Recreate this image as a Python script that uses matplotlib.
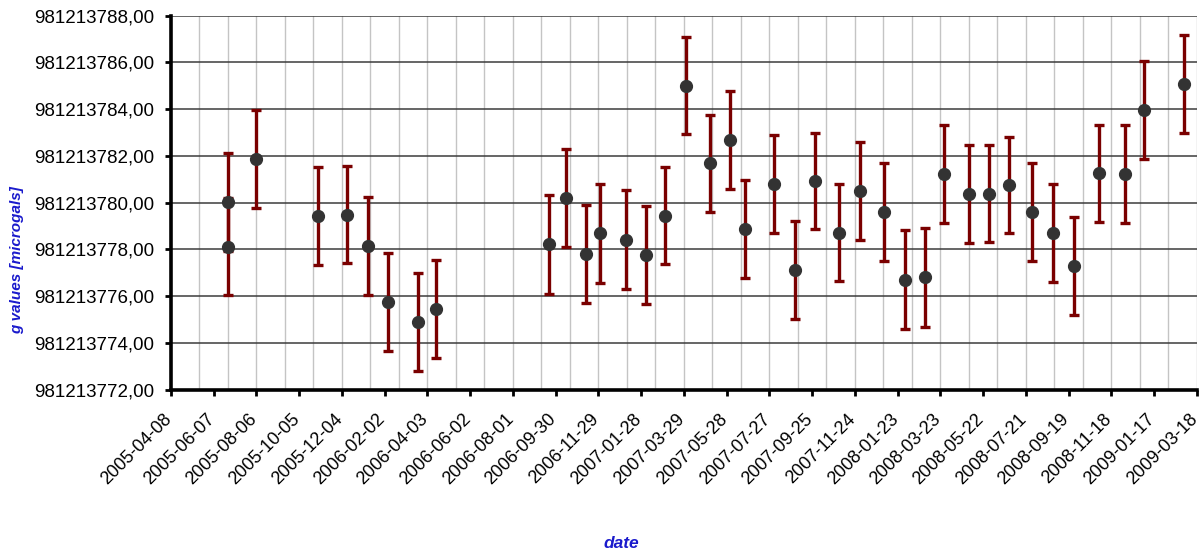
import numpy as np
import pandas as pd
import matplotlib
matplotlib.use('Agg')
import matplotlib.pyplot as plt
import matplotlib.dates as mdates
import matplotlib.transforms as mtransforms
from matplotlib.ticker import FixedLocator, FuncFormatter

plt.rcParams['font.family'] = ['Liberation Sans', 'DejaVu Sans']

# measurement dates and g values (microgals)
dates = ['2005-06-27', '2005-06-27', '2005-08-05', '2005-10-31', '2005-12-11',
         '2006-01-09', '2006-02-06', '2006-03-20', '2006-04-15', '2006-09-21',
         '2006-10-14', '2006-11-12', '2006-12-01', '2007-01-07', '2007-02-04',
         '2007-03-03', '2007-04-01', '2007-05-05', '2007-06-02', '2007-06-22',
         '2007-08-03', '2007-09-01', '2007-09-29', '2007-11-02', '2007-12-01',
         '2008-01-04', '2008-02-02', '2008-03-01', '2008-03-28', '2008-05-02',
         '2008-05-30', '2008-06-27', '2008-07-30', '2008-08-28', '2008-09-27',
         '2008-10-31', '2008-12-07', '2009-01-02', '2009-02-28']
g_values = [981213778.11, 981213780.03, 981213781.85, 981213779.43, 981213779.49,
            981213778.15, 981213775.75, 981213774.88, 981213775.45, 981213778.21,
            981213780.21, 981213777.79, 981213778.68, 981213778.42, 981213777.75,
            981213779.45, 981213785.00, 981213781.68, 981213782.69, 981213778.88,
            981213780.79, 981213777.11, 981213780.92, 981213778.71, 981213780.51,
            981213779.61, 981213776.71, 981213776.80, 981213781.23, 981213780.38,
            981213780.39, 981213780.74, 981213779.60, 981213778.69, 981213777.28,
            981213781.26, 981213781.22, 981213783.98, 981213785.09]
g_errors = [2.07, 2.10, 2.10, 2.10, 2.08,
            2.10, 2.10, 2.10, 2.10, 2.10,
            2.10, 2.10, 2.10, 2.10, 2.10,
            2.08, 2.07, 2.08, 2.10, 2.10,
            2.10, 2.10, 2.05, 2.08, 2.10,
            2.10, 2.12, 2.10, 2.08, 2.10,
            2.08, 2.05, 2.08, 2.10, 2.10,
            2.08, 2.10, 2.10, 2.10]

x_ticks = ['2005-04-08', '2005-06-07', '2005-08-06', '2005-10-05', '2005-12-04',
           '2006-02-02', '2006-04-03', '2006-06-02', '2006-08-01', '2006-09-30',
           '2006-11-29', '2007-01-28', '2007-03-29', '2007-05-28', '2007-07-27',
           '2007-09-25', '2007-11-24', '2008-01-23', '2008-03-23', '2008-05-22',
           '2008-07-21', '2008-09-19', '2008-11-18', '2009-01-17', '2009-03-18']
y_ticks = [981213772, 981213774, 981213776, 981213778, 981213780,
           981213782, 981213784, 981213786, 981213788]

x = mdates.date2num(pd.to_datetime(dates))
xt = mdates.date2num(pd.to_datetime(x_ticks))

fig = plt.figure(figsize=(12.02, 5.54), dpi=100)
ax = fig.add_axes([171 / 1202, 1 - 389.6 / 554, 1026 / 1202, (389.6 - 15.7) / 554])

# vertical grid every 40 days, horizontal grid on y ticks
vgrid = np.arange(xt[0], xt[-1] + 1, 40)
for v in vgrid[1:]:
    ax.axvline(v, color='#c4c4c4', lw=1.0, zorder=0)
for h in y_ticks:
    ax.axhline(h, color='#3c3c3c', lw=1.1, zorder=0)

ax.errorbar(x, g_values, yerr=g_errors, fmt='o', color='#333333',
            ecolor='#7a0000', elinewidth=2.4, capsize=3.5, capthick=2.4,
            markersize=8.5, zorder=3)

ax.set_xlim(xt[0], xt[-1])
ax.set_ylim(y_ticks[0], y_ticks[-1])
ax.xaxis.set_major_locator(FixedLocator(xt))
ax.set_xticklabels(x_ticks, rotation=45, ha='right', rotation_mode='anchor', fontsize=13)
ax.yaxis.set_major_locator(FixedLocator(y_ticks))
ax.yaxis.set_major_formatter(FuncFormatter(lambda v, p: f"{v:.2f}".replace('.', ',')))
ax.tick_params(axis='y', labelsize=13.5, direction='out', length=4, width=2, pad=8)
ax.tick_params(axis='x', direction='out', length=4, width=2, pad=11)

# nudge the rotated date labels left so they end at their tick
shift = mtransforms.ScaledTranslation(-8 / 100, 0, fig.dpi_scale_trans)
for lbl in ax.get_xticklabels():
    lbl.set_transform(lbl.get_transform() + shift)

for s in ['top', 'right']:
    ax.spines[s].set_visible(False)
for s in ['left', 'bottom']:
    ax.spines[s].set_linewidth(2.6)
    ax.spines[s].set_color('black')

fig.text(17 / 1202, 1 - 260 / 554, 'g values [microgals]', rotation=90, color='#1a1acc',
         fontsize=11, fontweight='bold', fontstyle='italic', ha='center', va='center')
fig.text(621 / 1202, 1 - 543 / 554, 'date', color='#1a1acc',
         fontsize=12.5, fontweight='bold', fontstyle='italic', ha='center', va='center')

fig.savefig('out.png', dpi=100)
